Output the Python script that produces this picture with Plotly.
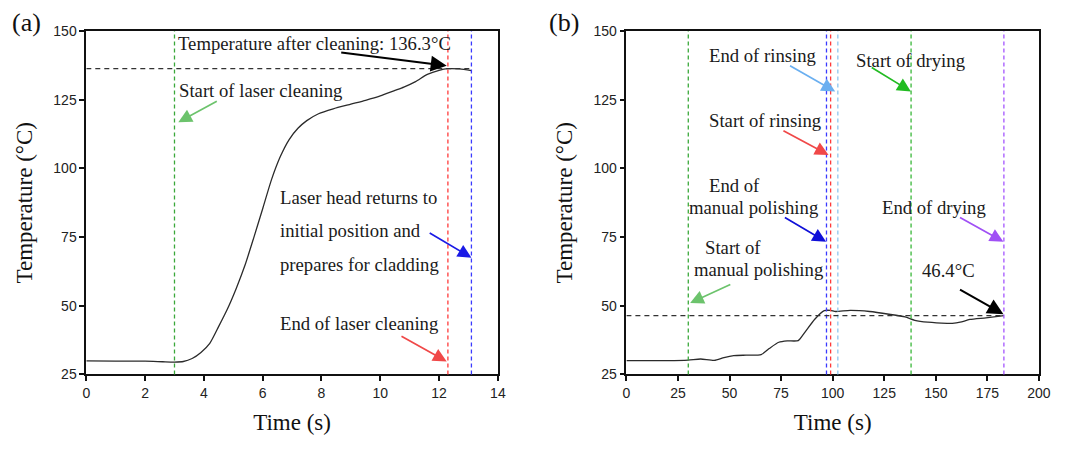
import plotly.graph_objects as go

# ---------------- data ----------------
time_a = [0, 1, 2, 2.6, 3.0, 3.3, 3.6, 3.9, 4.2, 4.5, 4.8, 5.1, 5.4, 5.7, 6.0, 6.3, 6.6, 6.9,
          7.2, 7.5, 7.9, 8.4, 9.0, 9.5, 10.0, 10.5, 10.8, 11.2, 11.6, 12.0, 12.3, 12.7, 13.1]
temp_a = [29.9, 29.8, 29.8, 29.6, 29.5, 29.7, 30.8, 33.0, 36.3, 42.4, 48.8, 56.3, 64.8, 74.9,
          85.3, 95.9, 104.3, 110.5, 114.6, 117.4, 119.9, 121.7, 123.4, 124.8, 126.4, 128.4,
          129.6, 131.6, 134.2, 135.7, 136.3, 136.2, 135.6]

time_b = [0, 20, 30, 36, 42.6, 47.3, 52, 58, 65.3, 69.2, 73.9, 78, 83.3, 86.5, 91.2, 95.9, 99,
          101.4, 108.5, 117.9, 127.3, 135.1, 139.8, 146.1, 155.5, 158, 161.8, 166.5, 174.3, 183]
temp_b = [30.0, 30.0, 30.2, 30.6, 30.1, 31.1, 31.8, 32.0, 32.2, 34.4, 36.7, 37.2, 37.3, 40.3,
          45.0, 48.2, 48.3, 47.9, 48.3, 47.9, 46.9, 45.9, 44.7, 44.0, 43.6, 43.6, 44.0, 45.0,
          45.6, 46.4]

# event times (vertical markers)
events_a = [3.0, 12.3, 13.1]
events_a_colors = ["#3aa83a", "#ff3a3a", "#3a3aff"]
events_b = [30, 97, 99, 102.5, 138, 183]
events_b_colors = ["#3aa83a", "#3a3aff", "#ff3a3a", "#8fc6ef", "#3ab83a", "#a455ff"]

ref_a = 136.3   # temperature after cleaning
ref_b = 46.4    # final temperature

x_ticks_a = [0, 2, 4, 6, 8, 10, 12, 14]
x_ticks_b = [0, 25, 50, 75, 100, 125, 150, 175, 200]
y_ticks = [25, 50, 75, 100, 125, 150]

# ---------------- figure ----------------
SERIF = "Liberation Serif, Times New Roman, serif"
SANS = "Liberation Sans, Arial, sans-serif"
TXT = 18.7

fig = go.Figure()
fig.add_trace(go.Scatter(x=time_a, y=temp_a, mode="lines", xaxis="x", yaxis="y",
                         line=dict(color="#2b2b2b", width=1.3, shape="spline", smoothing=0.6),
                         showlegend=False))
fig.add_trace(go.Scatter(x=time_b, y=temp_b, mode="lines", xaxis="x2", yaxis="y2",
                         line=dict(color="#2b2b2b", width=1.3, shape="spline", smoothing=0.6),
                         showlegend=False))

shapes = []
for xv, c in zip(events_a, events_a_colors):
    shapes.append(dict(type="line", xref="x", yref="y domain", x0=xv, x1=xv, y0=0, y1=1,
                       line=dict(color=c, width=1.3, dash="4px,3px")))
for xv, c in zip(events_b, events_b_colors):
    shapes.append(dict(type="line", xref="x2", yref="y2 domain", x0=xv, x1=xv, y0=0, y1=1,
                       line=dict(color=c, width=1.3, dash="4px,3px")))
shapes.append(dict(type="line", xref="x", yref="y", x0=0, x1=events_a[-1], y0=ref_a, y1=ref_a,
                   line=dict(color="#333333", width=1.2, dash="5px,4px")))
shapes.append(dict(type="line", xref="x2", yref="y2", x0=0, x1=events_b[-1], y0=ref_b, y1=ref_b,
                   line=dict(color="#333333", width=1.2, dash="5px,4px")))

ann = []


def text(xr, yr, x, y, s, anchor="left", size=TXT):
    ann.append(dict(xref=xr, yref=yr, x=x, y=y, text=s, showarrow=False, xanchor=anchor,
                    yanchor="middle", font=dict(family=SERIF, size=size, color="#1a1a1a")))


def arrow(xr, yr, tail, head, color, width=1.7):
    ann.append(dict(xref=xr, yref=yr, axref=xr, ayref=yr, x=head[0], y=head[1],
                    ax=tail[0], ay=tail[1], text="", showarrow=True, arrowhead=2,
                    arrowsize=1.6, arrowwidth=width, arrowcolor=color, standoff=0))


# panel (a)
text("x", "y", 3.04, 145.3, "Temperature after cleaning: 136.3°C")
arrow("x", "y", (8.62, 142.3), (12.26, 137.4), "#000000", 2.0)
text("x", "y", 3.07, 128.3, "Start of laser cleaning")
arrow("x", "y", (4.49, 124.7), (3.13, 116.8), "#6cc36c")
text("x", "y", 6.53, 89.5, "Laser head returns to")
text("x", "y", 6.53, 77.4, "initial position and")
text("x", "y", 6.53, 64.9, "prepares for cladding")
arrow("x", "y", (11.63, 76.8), (13.1, 67.5), "#1a1ae6")
text("x", "y", 6.53, 43.7, "End of laser cleaning")
arrow("x", "y", (10.67, 39.2), (12.26, 29.7), "#f04848")

# panel (b)
text("x2", "y2", 39, 141.1, "End of rinsing")
arrow("x2", "y2", (78.6, 137.7), (101.2, 128), "#6aaff0")
text("x2", "y2", 39, 117.6, "Start of rinsing")
arrow("x2", "y2", (75.4, 114), (98, 104.9), "#f04848")
text("x2", "y2", 110.1, 139.4, "Start of drying")
arrow("x2", "y2", (118.2, 137.1), (137.9, 128), "#22bb22")
text("x2", "y2", 39, 93.6, "End of")
text("x2", "y2", 29.2, 85.6, "manual polishing")
arrow("x2", "y2", (76.1, 82.4), (96.8, 73.3), "#1010d8")
text("x2", "y2", 123, 85.7, "End of drying")
arrow("x2", "y2", (161, 82.4), (182.8, 73.3), "#a050f5")
text("x2", "y2", 37.2, 71.3, "Start of")
text("x2", "y2", 31.7, 63.3, "manual polishing")
arrow("x2", "y2", (51.1, 58.0), (30.9, 51), "#6cc36c")
text("x2", "y2", 142.4, 62.9, "46.4°C")
arrow("x2", "y2", (161, 56.2), (182.8, 46.9), "#000000", 2.0)

# panel labels
ann.append(dict(xref="paper", yref="paper", x=0.0247, y=0.949, text="(a)", showarrow=False,
                xanchor="center", yanchor="middle", font=dict(family=SERIF, size=26, color="#111")))
ann.append(dict(xref="paper", yref="paper", x=0.522, y=0.949, text="(b)", showarrow=False,
                xanchor="center", yanchor="middle", font=dict(family=SERIF, size=26, color="#111")))

axis_common = dict(showline=True, linecolor="#111111", linewidth=1.6, mirror=True,
                   ticks="outside", ticklen=5, tickwidth=1.5, tickcolor="#111111",
                   showgrid=False, zeroline=False, automargin=False,
                   tickfont=dict(family=SANS, size=14, color="#222222"))

ydom = [0.168, 0.931]
xtitle = dict(text="Time (s)", font=dict(family=SERIF, size=23, color="#111"), standoff=14)
ytitle = dict(text="Temperature (°C)", font=dict(family=SERIF, size=23, color="#111"), standoff=14)
fig.update_layout(
    width=1080, height=450, margin=dict(l=0, r=0, t=0, b=0),
    paper_bgcolor="white", plot_bgcolor="white",
    xaxis=dict(domain=[0.0799, 0.461], range=[0, 14], tickvals=x_ticks_a, anchor="y",
               title=xtitle, **axis_common),
    yaxis=dict(domain=ydom, range=[25, 150], tickvals=y_ticks, anchor="x",
               title=ytitle, **axis_common),
    xaxis2=dict(domain=[0.580, 0.962], range=[0, 200], tickvals=x_ticks_b, anchor="y2",
                title=xtitle, **axis_common),
    yaxis2=dict(domain=ydom, range=[25, 150], tickvals=y_ticks, anchor="x2",
                title=ytitle, **axis_common),
    shapes=shapes, annotations=ann,
)

fig.write_html("out.html")
